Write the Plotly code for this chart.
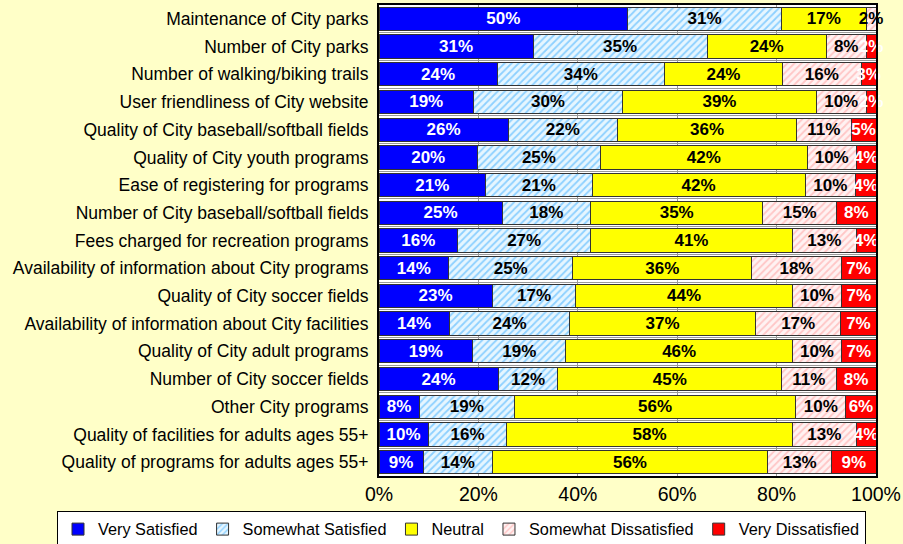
import plotly.graph_objects as go

categories = [
    "Maintenance of City parks",
    "Number of City parks",
    "Number of walking/biking trails",
    "User friendliness of City website",
    "Quality of City baseball/softball fields",
    "Quality of City youth programs",
    "Ease of registering for programs",
    "Number of City baseball/softball fields",
    "Fees charged for recreation programs",
    "Availability of information about City programs",
    "Quality of City soccer fields",
    "Availability of information about City facilities",
    "Quality of City adult programs",
    "Number of City soccer fields",
    "Other City programs",
    "Quality of facilities for adults ages 55+",
    "Quality of programs for adults ages 55+",
]
very_satisfied = [50, 31, 24, 19, 26, 20, 21, 25, 16, 14, 23, 14, 19, 24, 8, 10, 9]
somewhat_satisfied = [31, 35, 34, 30, 22, 25, 21, 18, 27, 25, 17, 24, 19, 12, 19, 16, 14]
neutral = [17, 24, 24, 39, 36, 42, 42, 35, 41, 36, 44, 37, 46, 45, 56, 58, 56]
somewhat_dissatisfied = [2, 8, 16, 10, 11, 10, 10, 15, 13, 18, 10, 17, 10, 11, 10, 13, 13]
very_dissatisfied = [0, 2, 3, 2, 5, 4, 4, 8, 4, 7, 7, 7, 7, 8, 6, 4, 9]
x_ticks = [0, 20, 40, 60, 80, 100]
x_tick_labels = ["0%", "20%", "40%", "60%", "80%", "100%"]

FONT = "Liberation Sans, Arial, sans-serif"

series = [
    ("Very Satisfied", very_satisfied, dict(color="#0000FF", line=dict(color="#333333", width=1)), "white"),
    ("Somewhat Satisfied", somewhat_satisfied,
     dict(color="#FFFFFF", line=dict(color="#333333", width=1),
          pattern=dict(shape="/", fgcolor="#33AAFF", bgcolor="#E6F6FF", size=5, solidity=0.35)), "black"),
    ("Neutral", neutral, dict(color="#FFFF00", line=dict(color="#333333", width=1)), "black"),
    ("Somewhat Dissatisfied", somewhat_dissatisfied,
     dict(color="#FFFFFF", line=dict(color="#333333", width=1),
          pattern=dict(shape="/", fgcolor="#FF9999", bgcolor="#FFF2F2", size=5, solidity=0.35)), "black"),
    ("Very Dissatisfied", very_dissatisfied, dict(color="#FF0000", line=dict(color="#333333", width=1)), "white"),
]

fig = go.Figure()
for name, vals, marker, tcolor in series:
    fig.add_trace(go.Bar(
        name=name,
        y=categories,
        x=vals,
        orientation="h",
        marker=marker,
        text=[f"{v}%" if v > 0 else "" for v in vals],
        textposition="inside",
        insidetextanchor="middle",
        textangle=0,
        constraintext="none",
        cliponaxis=False,
        textfont=dict(family=FONT, size=17, color=tcolor, weight="bold"),
        hoverinfo="x+name",
    ))

plot_l, plot_r, plot_t, plot_b = 379, 876, 5, 476
plot_w = plot_r - plot_l
plot_h = plot_b - plot_t

fig.update_layout(
    barmode="stack",
    barnorm="percent",
    bargap=0.16,
    width=903,
    height=544,
    paper_bgcolor="#FFFFC8",
    plot_bgcolor="#FFFFFF",
    margin=dict(l=plot_l, r=903 - plot_r, t=plot_t, b=544 - plot_b, autoexpand=False),
    font=dict(family=FONT, size=14, color="black"),
    legend=dict(
        orientation="h",
        xref="paper", yref="paper",
        x=(57 - plot_l) / plot_w, xanchor="left",
        y=-(511 - plot_b) / plot_h, yanchor="top",
        bgcolor="white",
        bordercolor="black",
        borderwidth=1,
        font=dict(family=FONT, size=16.3),
        itemwidth=30,
        traceorder="normal",
    ),
)
fig.update_xaxes(
    range=[0, 100.001],
    tickvals=x_ticks,
    ticktext=x_tick_labels,
    tickfont=dict(size=19.5),
    showgrid=True,
    gridcolor="#999999",
    gridwidth=1,
    showline=True,
    linecolor="black",
    linewidth=2,
    mirror=True,
    ticks="",
    zeroline=False,
    fixedrange=True,
)
fig.update_yaxes(
    categoryorder="array",
    categoryarray=categories,
    autorange="reversed",
    tickson="boundaries",
    showgrid=True,
    gridcolor="#999999",
    gridwidth=1,
    showline=True,
    linecolor="black",
    linewidth=2,
    mirror=True,
    ticks="",
    ticklabelstandoff=5,
    tickfont=dict(size=17.5),
    fixedrange=True,
)

fig.write_html("out.html", config={"displayModeBar": False},
               post_script="document.body.style.margin='0px';")
